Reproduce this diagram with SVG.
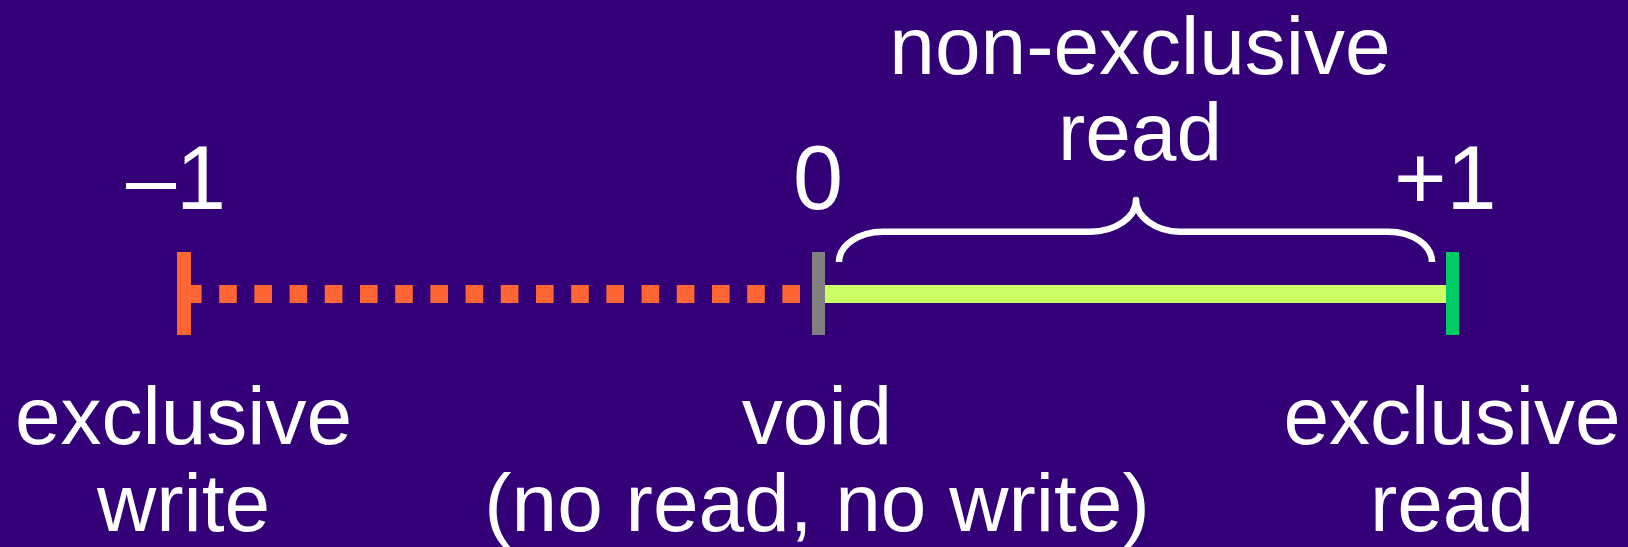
<svg xmlns="http://www.w3.org/2000/svg" width="1628" height="547" viewBox="0 0 1628 547">
  <style>
    .label { font-family: "Liberation Sans", Arial, sans-serif; font-size: 82px; fill: #ffffff; text-anchor: middle; }
    .num { font-family: "Liberation Sans", Arial, sans-serif; font-size: 90px; fill: #ffffff; }
    .brace { fill: none; stroke: #ffffff; stroke-width: 6.5; stroke-linecap: butt; stroke-linejoin: round; }
  </style>
  <rect width="1628" height="547" fill="#330078"/>

  <!-- scale segments and the brace over the read range -->
  <g id="connectors">
    <line x1="184" y1="294" x2="800" y2="294" stroke="#ff6633" stroke-width="18" stroke-dasharray="17.6 17.6"/>
    <line x1="825" y1="294" x2="1446" y2="294" stroke="#ccff66" stroke-width="18"/>
    <path class="brace" d="M839,262 C839,245.4 858.7,231.7 883,231.7 L1090,231.7 C1115.4,231.7 1136,217.4 1136,200 C1136,217.4 1156.6,231.7 1180,231.7 L1388,231.7 C1413,231.7 1432,245.4 1432,262"/>
  </g>

  <!-- end points -->
  <g id="minus-one">
    <rect x="177" y="252" width="14" height="83" fill="#ff6633"/>
    <text class="num" x="126" y="209">–1</text>
  </g>
  <g id="zero">
    <rect x="812" y="252" width="13" height="83" fill="#808080"/>
    <text class="num" x="818" y="209" text-anchor="middle">0</text>
  </g>
  <g id="plus-one">
    <rect x="1446" y="252" width="13" height="83" fill="#00cc66"/>
    <text class="num" x="1394" y="209">+1</text>
  </g>

  <!-- captions -->
  <g id="exclusive-write">
    <text class="label" x="183.5" y="444">exclusive</text>
    <text class="label" x="183.5" y="531">write</text>
  </g>
  <g id="void">
    <text class="label" x="817" y="444">void</text>
    <text class="label" x="817" y="531">(no read, no write)</text>
  </g>
  <g id="exclusive-read">
    <text class="label" x="1452" y="444">exclusive</text>
    <text class="label" x="1452" y="531">read</text>
  </g>
  <g id="non-exclusive-read">
    <text class="label" x="1140" y="74">non-exclusive</text>
    <text class="label" x="1140" y="160">read</text>
  </g>
</svg>
